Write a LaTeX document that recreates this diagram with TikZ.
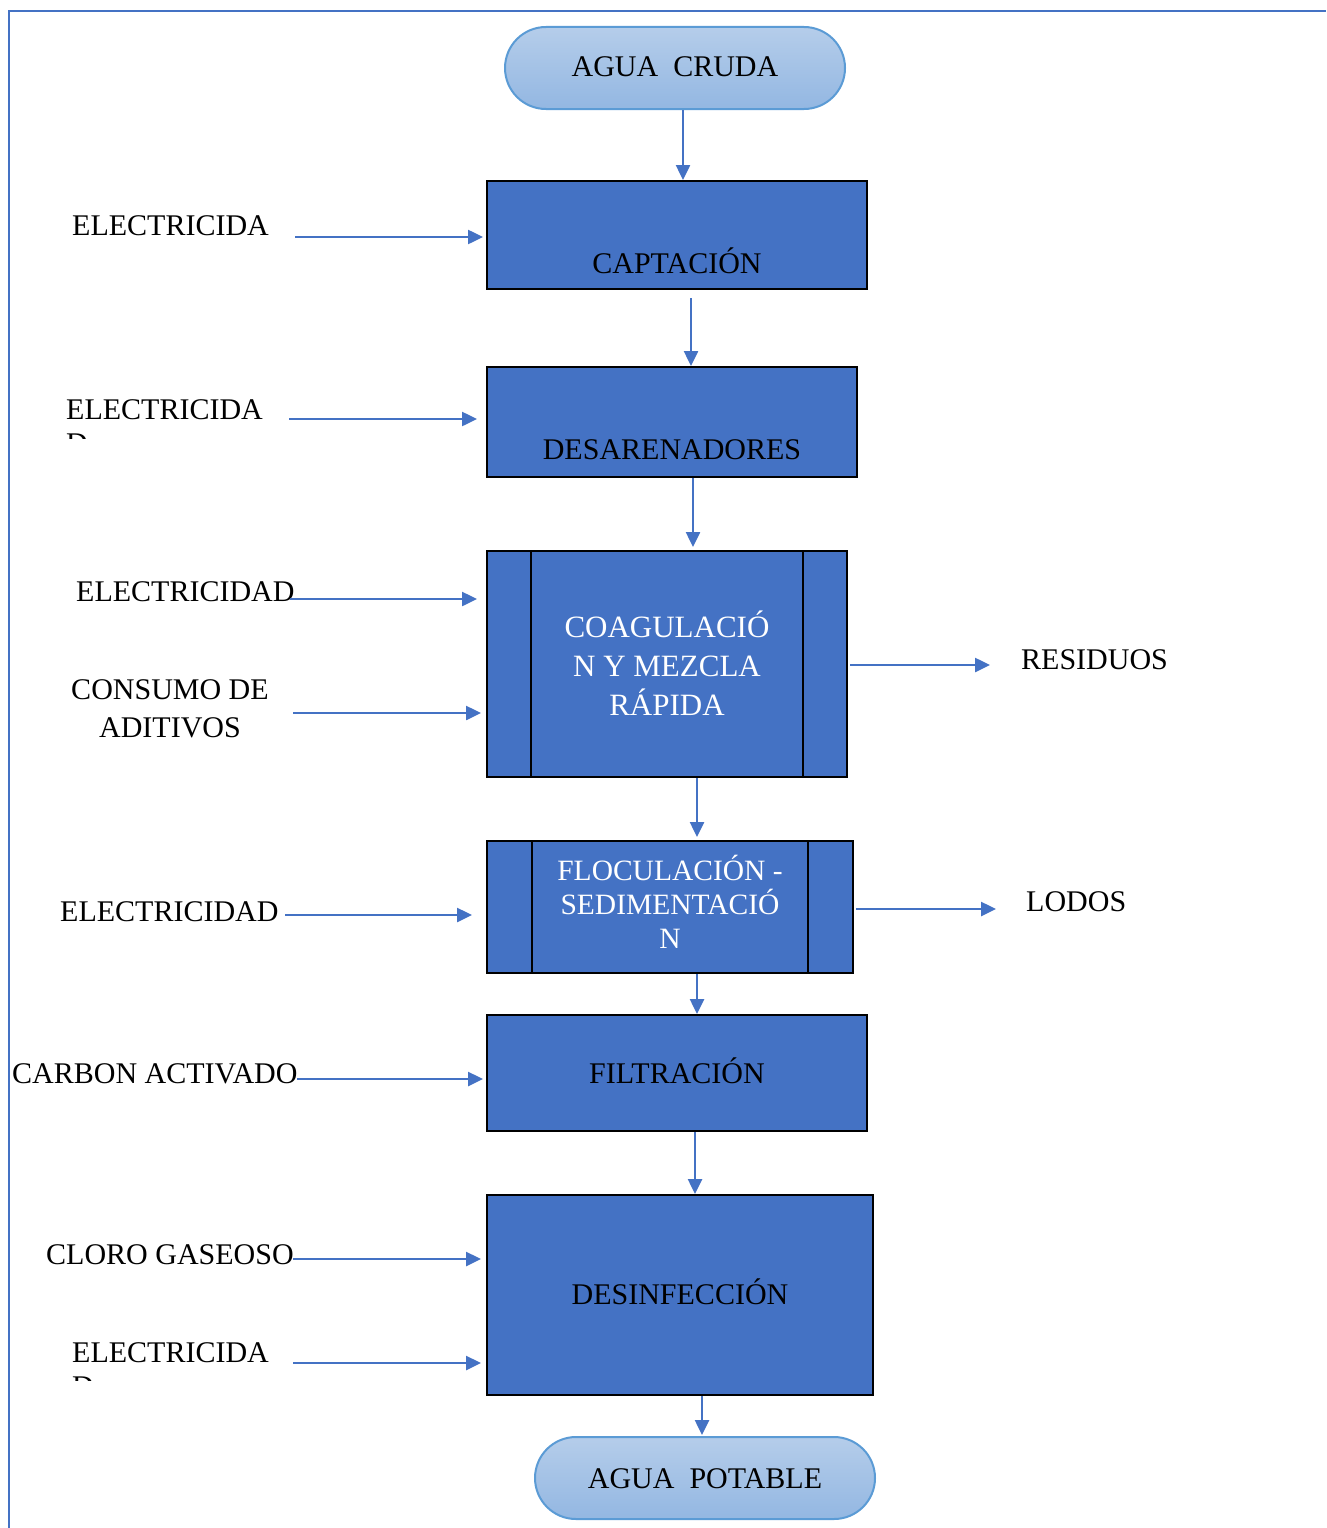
\documentclass[tikz,border=0pt]{standalone}
\usepackage{fontspec}
\setmainfont{Liberation Serif}
\usetikzlibrary{arrows.meta}

\definecolor{boxblue}{HTML}{4472C4}
\definecolor{arrowblue}{HTML}{4472C4}
\definecolor{termedge}{HTML}{5B9BD5}
\definecolor{termtop}{HTML}{B5CDEA}
\definecolor{termbot}{HTML}{93B7E2}

\newcommand\lblfont{\fontsize{30}{34}\selectfont}

\tikzset{
  flow/.style={draw=arrowblue, line width=2.5pt, -{Triangle[length=15pt,width=14pt]}},
  proc/.style={draw=black, line width=2pt, fill=boxblue, inner sep=0pt, font=\lblfont},
  term/.style={draw=termedge, line width=2pt, top color=termtop, bottom color=termbot,
    rounded corners=41pt, inner sep=0pt, minimum width=340pt, font=\lblfont},
  sideline/.style={draw=black, line width=2pt},
  lbl/.style={font=\lblfont, inner sep=0pt, anchor=base west},
  frameline/.style={draw=arrowblue, line width=2.5pt},
}

\begin{document}
\begin{tikzpicture}[x=1pt, y=-1pt]
\useasboundingbox (0,0) rectangle (1326,1528);

% page frame
\draw[frameline] (9,1528) -- (9,11) -- (1326,11);

% terminals and process boxes
\node[term, anchor=base, text height=49pt, text depth=33pt] (cruda) at (675,76) {AGUA~~CRUDA};
\node[proc, anchor=base, minimum width=380pt, text height=92pt, text depth=16pt] (capt) at (677,273) {CAPTACIÓN};
\node[proc, anchor=base, minimum width=370pt, text height=92pt, text depth=18pt] (desa) at (672,459) {DESARENADORES};

\node[proc, minimum width=360pt, minimum height=226pt] (coag) at (667,664) {};
\draw[sideline] ([xshift=45pt]coag.north west) -- ([xshift=45pt]coag.south west);
\draw[sideline] ([xshift=-45pt]coag.north east) -- ([xshift=-45pt]coag.south east);
\node[text=white, align=center, inner sep=0pt, font=\fontsize{31}{39}\selectfont] (coagT) at (667,663) {COAGULACIÓ\\N Y MEZCLA\\RÁPIDA};

\node[proc, minimum width=366pt, minimum height=132pt] (floc) at (670,907) {};
\draw[sideline] ([xshift=46pt]floc.north west) -- ([xshift=46pt]floc.south west);
\draw[sideline] ([xshift=-46pt]floc.north east) -- ([xshift=-46pt]floc.south east);
\node[text=white, align=center, inner sep=0pt, font=\fontsize{29.5}{34}\selectfont] (flocT) at (670,902) {FLOCULACIÓN -\\SEDIMENTACIÓ\\N};

\node[proc, anchor=base, minimum width=380pt, text height=68pt, text depth=48pt] (filt) at (677,1083) {FILTRACIÓN};
\node[proc, anchor=base, minimum width=386pt, text height=109pt, text depth=91pt] (desin) at (680,1304) {DESINFECCIÓN};
\node[term, anchor=base, text height=51pt, text depth=31pt] (potable) at (705,1488) {AGUA~~POTABLE};

% main flow
\draw[flow] ([xshift=8pt]cruda.south) -- ([xshift=8pt]cruda.south |- capt.north);
\draw[flow] ([shift={(14pt,-8pt)}]capt.south) -- ([xshift=14pt]capt.south |- desa.north);
\draw[flow, shorten >=3pt] ([xshift=21pt]desa.south) -- ([xshift=21pt]desa.south |- coag.north);
\draw[flow, shorten >=3pt] ([xshift=30pt]coag.south) -- ([xshift=30pt]coag.south |- floc.north);
\draw[flow] ([xshift=27pt]floc.south) -- ([xshift=27pt]floc.south |- filt.north);
\draw[flow] ([xshift=18pt]filt.south) -- ([xshift=18pt]filt.south |- desin.north);
\draw[flow, shorten >=1pt] ([xshift=22pt]desin.south) -- ([xshift=22pt]desin.south |- potable.north);

% inputs on the left
\node[lbl] (in1) at (72,235) {ELECTRICIDA};
\begin{scope}
  \clip (0,380) rectangle (480,438);
  \node[font=\lblfont, inner sep=0pt, align=left, anchor=north west] (in2) at (66,399) {ELECTRICIDA\\D};
\end{scope}
\node[lbl] (in3) at (76,601) {ELECTRICIDAD};
\node[font=\fontsize{30}{38}\selectfont, inner sep=0pt, align=center, anchor=north] (in4) at (170,679) {CONSUMO DE\\ADITIVOS};
\node[lbl] (in5) at (60,921) {ELECTRICIDAD};
\node[lbl] (in6) at (12,1083) {CARBON ACTIVADO};
\node[lbl] (in7) at (46,1264) {CLORO GASEOSO};
\begin{scope}
  \clip (0,1320) rectangle (480,1380);
  \node[font=\lblfont, inner sep=0pt, align=left, anchor=north west] (in8) at (72,1342) {ELECTRICIDA\\D};
\end{scope}

\coordinate (a1) at (295,237);
\coordinate (a2) at (289,419);
\coordinate (a3) at (290,599);
\coordinate (a4) at (293,713);
\coordinate (a5) at (285,915);
\coordinate (a6) at (297,1079);
\coordinate (a7) at (293,1259);
\coordinate (a8) at (293,1363);

\draw[flow, shorten >=3pt] (a1) -- (a1 -| capt.west);
\draw[flow, shorten >=9pt] (a2) -- (a2 -| desa.west);
\draw[flow, shorten >=9pt] (a3) -- (a3 -| coag.west);
\draw[flow, shorten >=5pt] (a4) -- (a4 -| coag.west);
\draw[flow, shorten >=14pt] (a5) -- (a5 -| floc.west);
\draw[flow, shorten >=3pt] (a6) -- (a6 -| filt.west);
\draw[flow, shorten >=5pt] (a7) -- (a7 -| desin.west);
\draw[flow, shorten >=5pt] (a8) -- (a8 -| desin.west);

% outputs on the right
\coordinate (r1) at (990,665);
\coordinate (r2) at (996,909);
\draw[flow, shorten <=2pt] (coag.east |- r1) -- (r1);
\draw[flow, shorten <=2pt] (floc.east |- r2) -- (r2);
\node[lbl] (out1) at (1021,669) {RESIDUOS};
\node[lbl] (out2) at (1026,911) {LODOS};

\end{tikzpicture}
\end{document}
